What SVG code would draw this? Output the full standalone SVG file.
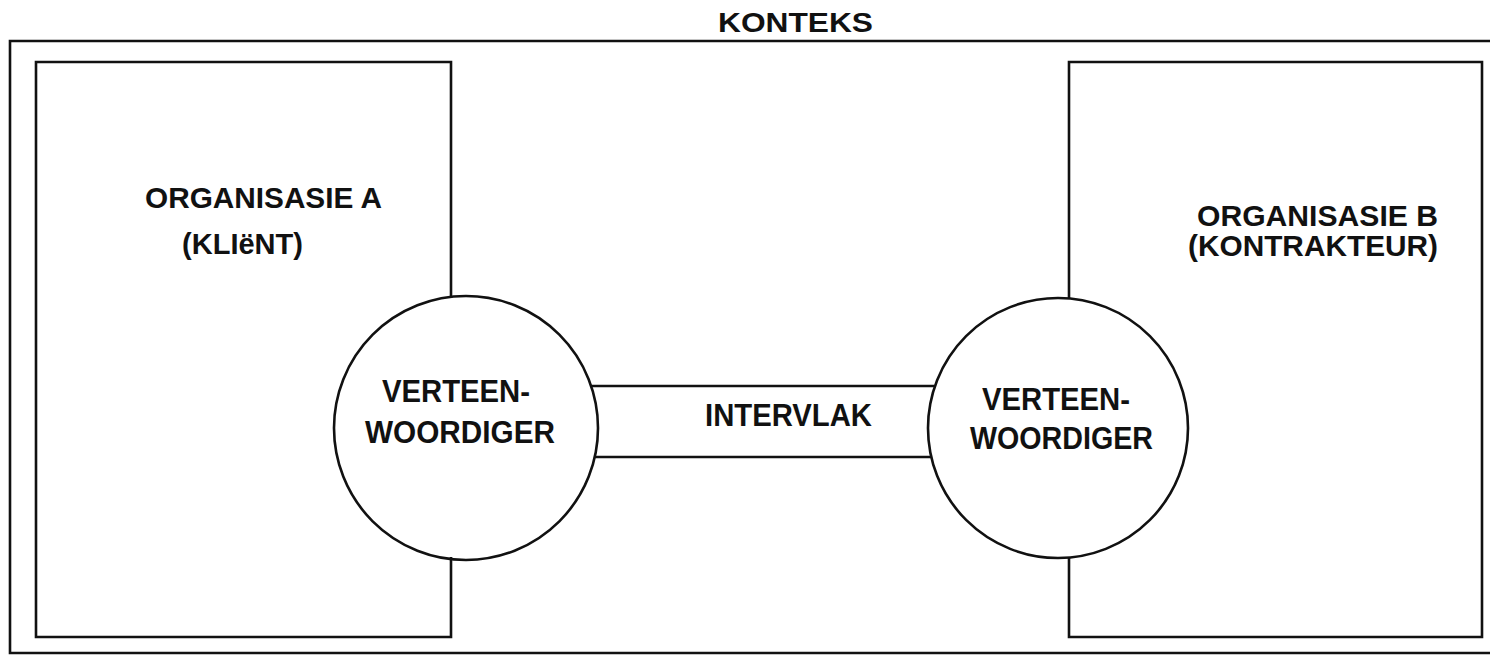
<svg xmlns="http://www.w3.org/2000/svg" width="1490" height="655" viewBox="0 0 1490 655">
  <style>
    .ln { fill: none; stroke: #111; stroke-width: 2.6; }
    .lbl { font-family: "Liberation Sans", Arial, Helvetica, sans-serif; font-weight: bold; fill: #111; font-size: 30px; }
    .big { font-size: 31px; }
  </style>
  <rect width="1490" height="655" fill="#ffffff"/>

  <!-- context frame (open on the right) -->
  <g id="konteks">
    <path class="ln" d="M1495,41 H10 V653 H1495"/>
    <text class="lbl" x="718" y="32" style="font-size:28px" textLength="155" lengthAdjust="spacingAndGlyphs">KONTEKS</text>
  </g>

  <!-- organisation A -->
  <g id="org-a">
    <path class="ln" d="M451,298 V62 H36 V637 H451 V557"/>
    <text class="lbl" x="145" y="208" textLength="237" lengthAdjust="spacingAndGlyphs">ORGANISASIE A</text>
    <text class="lbl" x="182" y="254" textLength="121" lengthAdjust="spacingAndGlyphs">(KLIëNT)</text>
  </g>

  <!-- organisation B -->
  <g id="org-b">
    <path class="ln" d="M1069,298 V62 H1482 V637 H1069 V557"/>
    <text class="lbl" x="1197" y="226" textLength="241" lengthAdjust="spacingAndGlyphs">ORGANISASIE B</text>
    <text class="lbl" x="1188" y="256" textLength="250" lengthAdjust="spacingAndGlyphs">(KONTRAKTEUR)</text>
  </g>

  <!-- representative of A -->
  <g id="rep-a">
    <circle class="ln" cx="466" cy="428" r="132"/>
    <text class="lbl big" x="382" y="402" textLength="148" lengthAdjust="spacingAndGlyphs">VERTEEN-</text>
    <text class="lbl big" x="365" y="443" textLength="190" lengthAdjust="spacingAndGlyphs">WOORDIGER</text>
  </g>

  <!-- representative of B -->
  <g id="rep-b">
    <circle class="ln" cx="1058" cy="428" r="130"/>
    <text class="lbl big" x="982" y="410" textLength="148" lengthAdjust="spacingAndGlyphs">VERTEEN-</text>
    <text class="lbl big" x="970" y="449" textLength="183" lengthAdjust="spacingAndGlyphs">WOORDIGER</text>
  </g>

  <!-- interface band between the two representatives -->
  <g id="connectors">
    <line class="ln" x1="591" y1="386" x2="935" y2="386"/>
    <line class="ln" x1="595" y1="457" x2="931" y2="457"/>
  </g>
  <g id="intervlak">
    <text class="lbl big" x="705" y="426" textLength="167" lengthAdjust="spacingAndGlyphs">INTERVLAK</text>
  </g>
</svg>
